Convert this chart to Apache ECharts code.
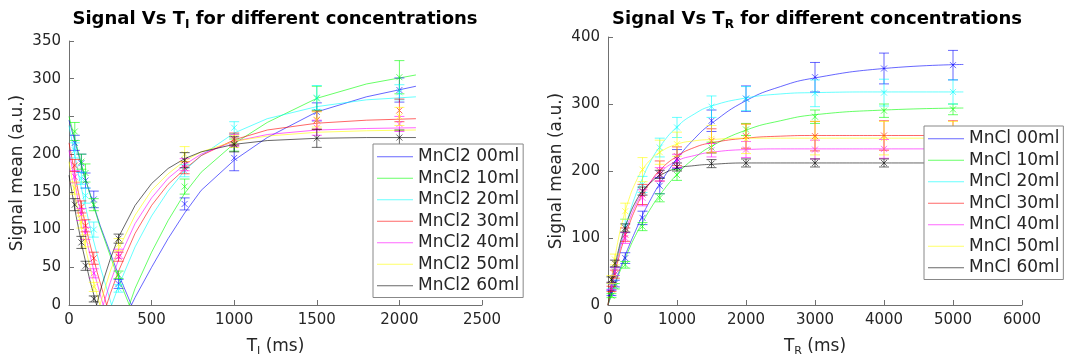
<!DOCTYPE html>
<html>
<head>
<meta charset="utf-8">
<script src="https://cdn.jsdelivr.net/npm/echarts@6/dist/echarts.min.js"></script>
<style>
  html, body { margin: 0; padding: 0; background: #fff; }
  #chart { width: 1072px; height: 364px; }
</style>
</head>
<body>
<div id="chart"></div>
<script>
// legend names and colours (MATLAB b g c r m y k, drawn half transparent)
const namesTI = ['MnCl2 00ml', 'MnCl2 10ml', 'MnCl2 20ml', 'MnCl2 30ml', 'MnCl2 40ml', 'MnCl2 50ml', 'MnCl2 60ml'];
const namesTR = ['MnCl 00ml', 'MnCl 10ml', 'MnCl 20ml', 'MnCl 30ml', 'MnCl 40ml', 'MnCl 50ml', 'MnCl 60ml'];
const COLORS = [
  'rgba(0,0,255,0.6)',
  'rgba(0,255,0,0.6)',
  'rgba(0,255,255,0.6)',
  'rgba(255,0,0,0.6)',
  'rgba(255,0,255,0.6)',
  'rgba(255,255,0,0.6)',
  'rgba(0,0,0,0.6)',
];
const FONT = 'DejaVu Sans';

// ---- left panel: signal vs TI (inversion recovery) ----
const tiTimes = [35, 75, 100, 150, 300, 700, 1000, 1500, 2000];
const tiMean00 = [215, 188, 165, 140, 28, 134, 195, 256, 285];
const tiMean10 = [230, 190, 175, 133, 40, 157, 212, 274, 302];
const tiMean20 = [205, 168, 145, 100, 22, 178, 235, 275, 282];
const tiMean30 = [185, 130, 105, 62, 64, 182, 220, 245, 258];
const tiMean40 = [170, 120, 95, 42, 68, 186, 218, 235, 240];
const tiMean50 = [155, 110, 85, 24, 80, 200, 217, 246, 250];
const tiMean60 = [133, 83, 52, 8, 88, 192, 213, 221, 222];
const tiErr00 = [10, 12, 10, 11, 6, 8, 17, 12, 16];
const tiErr10 = [12, 10, 12, 8, 5, 10, 8, 16, 22];
const tiErr20 = [10, 8, 10, 10, 5, 8, 8, 16, 10];
const tiErr30 = [8, 8, 8, 8, 6, 8, 8, 12, 15];
const tiErr40 = [8, 8, 8, 6, 6, 8, 8, 10, 10];
const tiErr50 = [8, 8, 8, 6, 8, 10, 8, 10, 12];
const tiErr60 = [8, 8, 6, 4, 6, 10, 10, 12, 10];

// fitted curves, [TI, signal]
const tiFit00 = [[0,245],[95,170],[189,105],[284,49],[378,0],[400,10],[500,50],[600,88],[700,122],[800,152],[1000,192],[1200,222],[1500,256],[1800,276],[2100,290]];
const tiFit10 = [[0,250],[91,173],[183,107],[274,50],[365,0],[400,22],[500,70],[600,112],[700,148],[800,176],[1000,214],[1200,242],[1500,274],[1800,293],[2100,305]];
const tiFit20 = [[0,238],[65,165],[129,102],[194,47],[258,0],[300,25],[400,77],[500,118],[600,151],[700,178],[800,198],[1000,228],[1200,247],[1500,263],[1800,272],[2100,276]];
const tiFit30 = [[0,215],[57,149],[114,92],[171,43],[228,0],[250,15],[300,45],[400,95],[500,132],[600,160],[700,180],[800,198],[1000,219],[1200,232],[1500,241],[1800,245],[2100,247]];
const tiFit40 = [[0,205],[52,142],[104,88],[155,41],[207,0],[250,30],[300,60],[400,108],[500,142],[600,168],[700,186],[800,200],[1000,217],[1200,226],[1500,232],[1800,234],[2100,235]];
const tiFit50 = [[0,190],[47,132],[94,81],[140,38],[187,0],[250,45],[300,74],[400,119],[500,152],[600,174],[700,191],[800,203],[1000,217],[1200,224],[1500,229],[1800,231],[2100,232]];
const tiFit60 = [[0,172],[42,119],[84,73],[125,34],[167,0],[200,27],[250,61],[300,90],[400,132],[500,161],[600,181],[700,194],[800,203],[1000,213],[1200,218],[1500,221],[1800,222],[2100,222]];

// ---- right panel: signal vs TR (saturation recovery) ----
const trTimes = [50, 100, 250, 500, 750, 1000, 1500, 2000, 3000, 4000, 5000];
const trMean00 = [18, 32, 70, 130, 178, 218, 275, 308, 340, 353, 358];
const trMean10 = [14, 28, 60, 117, 160, 194, 235, 262, 281, 290, 292];
const trMean20 = [28, 50, 118, 180, 235, 265, 296, 308, 316, 317, 318];
const trMean30 = [24, 46, 105, 165, 200, 222, 245, 252, 252, 253, 253];
const trMean40 = [28, 50, 100, 160, 195, 215, 231, 232, 232, 233, 233];
const trMean50 = [38, 68, 140, 202, 228, 240, 248, 248, 249, 249, 249];
const trMean60 = [38, 62, 115, 170, 195, 206, 211, 212, 212, 212, 212];
const trErr00 = [4, 5, 8, 10, 12, 14, 16, 19, 22, 23, 22];
const trErr10 = [3, 4, 5, 6, 6, 8, 8, 9, 10, 10, 8];
const trErr20 = [4, 6, 10, 12, 14, 15, 16, 18, 20, 20, 18];
const trErr30 = [4, 6, 10, 15, 15, 14, 18, 18, 22, 22, 22];
const trErr40 = [5, 6, 8, 12, 10, 10, 10, 12, 14, 14, 14];
const trErr50 = [6, 8, 12, 18, 18, 18, 20, 22, 25, 25, 25];
const trErr60 = [4, 5, 6, 6, 6, 6, 6, 6, 6, 6, 6];

const trFitTimes = [0, 50, 100, 150, 200, 300, 400, 500, 600, 750, 1000, 1250, 1500, 2000, 2500, 3000, 4000, 5150];
const trFit00 = [0, 16, 32, 47, 61, 87, 111, 134, 154, 181, 218, 248, 271, 305, 326, 339, 353, 359];
const trFit10 = [0, 15, 30, 44, 57, 82, 104, 123, 141, 164, 195, 219, 237, 261, 275, 284, 291, 294];
const trFit20 = [0, 28, 53, 76, 97, 133, 164, 189, 211, 236, 266, 285, 297, 309, 315, 317, 318, 318];
const trFit30 = [0, 25, 48, 68, 87, 118, 144, 165, 181, 201, 222, 235, 242, 249, 252, 253, 253, 253];
const trFit40 = [0, 28, 52, 74, 93, 124, 149, 168, 182, 198, 215, 223, 228, 232, 233, 233, 233, 233];
const trFit50 = [0, 38, 70, 98, 121, 157, 183, 202, 215, 228, 240, 245, 247, 249, 249, 249, 249, 249];
const trFit60 = [0, 32, 59, 81, 101, 131, 154, 170, 181, 193, 204, 208, 210, 212, 212, 212, 212, 212];

const tiMeans = [tiMean00, tiMean10, tiMean20, tiMean30, tiMean40, tiMean50, tiMean60];
const tiErrs = [tiErr00, tiErr10, tiErr20, tiErr30, tiErr40, tiErr50, tiErr60];
const tiFits = [tiFit00, tiFit10, tiFit20, tiFit30, tiFit40, tiFit50, tiFit60];
const trMeans = [trMean00, trMean10, trMean20, trMean30, trMean40, trMean50, trMean60];
const trErrs = [trErr00, trErr10, trErr20, trErr30, trErr40, trErr50, trErr60];
const trFits = [trFit00, trFit10, trFit20, trFit30, trFit40, trFit50, trFit60];

// error bar with caps and an 'x' marker
function renderErrorBar(params, api) {
  const x = api.value(0), y = api.value(1), e = api.value(2);
  const c = api.coord([x, y]);
  const hi = api.coord([x, y + e]);
  const lo = api.coord([x, y - e]);
  const st = { stroke: api.visual('color'), lineWidth: 1, fill: null };
  const cap = 5, m = 3;
  return {
    type: 'group',
    children: [
      { type: 'line', shape: { x1: c[0], y1: hi[1], x2: c[0], y2: lo[1] }, style: st },
      { type: 'line', shape: { x1: c[0] - cap, y1: hi[1], x2: c[0] + cap, y2: hi[1] }, style: st },
      { type: 'line', shape: { x1: c[0] - cap, y1: lo[1], x2: c[0] + cap, y2: lo[1] }, style: st },
      { type: 'line', shape: { x1: c[0] - m, y1: c[1] - m, x2: c[0] + m, y2: c[1] + m }, style: st },
      { type: 'line', shape: { x1: c[0] - m, y1: c[1] + m, x2: c[0] + m, y2: c[1] - m }, style: st },
    ],
  };
}

const series = [];
namesTI.forEach((name, i) => {
  series.push({
    name, type: 'line', xAxisIndex: 0, yAxisIndex: 0,
    data: tiFits[i], symbol: 'none', smooth: false,
    lineStyle: { color: COLORS[i], width: 1 }, itemStyle: { color: COLORS[i] },
    z: 2, silent: true,
  });
  series.push({
    name: 'ti-err-' + i, type: 'custom', xAxisIndex: 0, yAxisIndex: 0,
    data: tiTimes.map((t, j) => [t, tiMeans[i][j], tiErrs[i][j]]),
    renderItem: renderErrorBar, itemStyle: { color: COLORS[i] },
    encode: { x: 0, y: 1 }, z: 3, silent: true,
  });
});
namesTR.forEach((name, i) => {
  series.push({
    name, type: 'line', xAxisIndex: 1, yAxisIndex: 1,
    data: trFitTimes.map((t, j) => [t, trFits[i][j]]), symbol: 'none', smooth: true,
    lineStyle: { color: COLORS[i], width: 1 }, itemStyle: { color: COLORS[i] },
    z: 2, silent: true,
  });
  series.push({
    name: 'tr-err-' + i, type: 'custom', xAxisIndex: 1, yAxisIndex: 1,
    data: trTimes.map((t, j) => [t, trMeans[i][j], trErrs[i][j]]),
    renderItem: renderErrorBar, itemStyle: { color: COLORS[i] },
    encode: { x: 0, y: 1 }, z: 3, silent: true,
  });
});

const axisCommon = {
  type: 'value',
  axisLine: { show: true, lineStyle: { color: '#707070' } },
  axisTick: { show: true, inside: true, length: 5, lineStyle: { color: '#707070' } },
  axisLabel: { color: '#262626', fontSize: 15, fontFamily: FONT, formatter: v => String(v) },
  splitLine: { show: false },
  nameLocation: 'middle',
  nameTextStyle: {
    color: '#262626', fontSize: 17, fontFamily: FONT,
    rich: { s: { fontSize: 11, fontFamily: FONT, color: '#262626', lineHeight: 11, padding: [10, 0, 0, 0] } },
  },
};

const titleStyle = {
  fontSize: 18, fontWeight: 'bold', color: '#000', fontFamily: FONT,
  rich: { s: { fontSize: 12, fontWeight: 'bold', color: '#000', fontFamily: FONT, lineHeight: 12, padding: [11, 0, 0, 0] } },
};

const legendCommon = {
  orient: 'vertical', padding: [2, 4, 1, 4], itemGap: 0, itemWidth: 36, itemHeight: 1,
  icon: 'rect',
  borderColor: '#888', borderWidth: 1, borderRadius: 0, backgroundColor: '#fff',
  textStyle: { fontSize: 17, lineHeight: 21.5, color: '#262626', fontFamily: FONT },
  selectedMode: false,
};

const chart = echarts.init(document.getElementById('chart'), null, { renderer: 'canvas' });
chart.setOption({
  animation: false,
  backgroundColor: '#fff',
  textStyle: { fontFamily: FONT },
  title: [
    { text: 'Signal Vs T{s|I} for different concentrations', left: 270, top: 5, textAlign: 'center', textStyle: titleStyle },
    { text: 'Signal Vs T{s|R} for different concentrations', left: 812, top: 5, textAlign: 'center', textStyle: titleStyle },
  ],
  legend: [
    Object.assign({ data: namesTI, left: 373, top: 144 }, legendCommon),
    Object.assign({ data: namesTR, left: 924, top: 126 }, legendCommon),
  ],
  grid: [
    { left: 69, top: 41, width: 413, height: 264, containLabel: false },
    { left: 608, top: 37, width: 414, height: 268, containLabel: false },
  ],
  xAxis: [
    Object.assign({}, axisCommon, { gridIndex: 0, min: 0, max: 2500, interval: 500, name: 'T{s|I} (ms)', nameGap: 33 }),
    Object.assign({}, axisCommon, { gridIndex: 1, min: 0, max: 6000, interval: 1000, name: 'T{s|R} (ms)', nameGap: 33 }),
  ],
  yAxis: [
    Object.assign({}, axisCommon, { gridIndex: 0, min: 0, max: 350, interval: 50, name: 'Signal mean (a.u.)', nameGap: 43 }),
    Object.assign({}, axisCommon, { gridIndex: 1, min: 0, max: 400, interval: 100, name: 'Signal mean (a.u.)', nameGap: 43 }),
  ],
  series,
});
</script>
</body>
</html>
